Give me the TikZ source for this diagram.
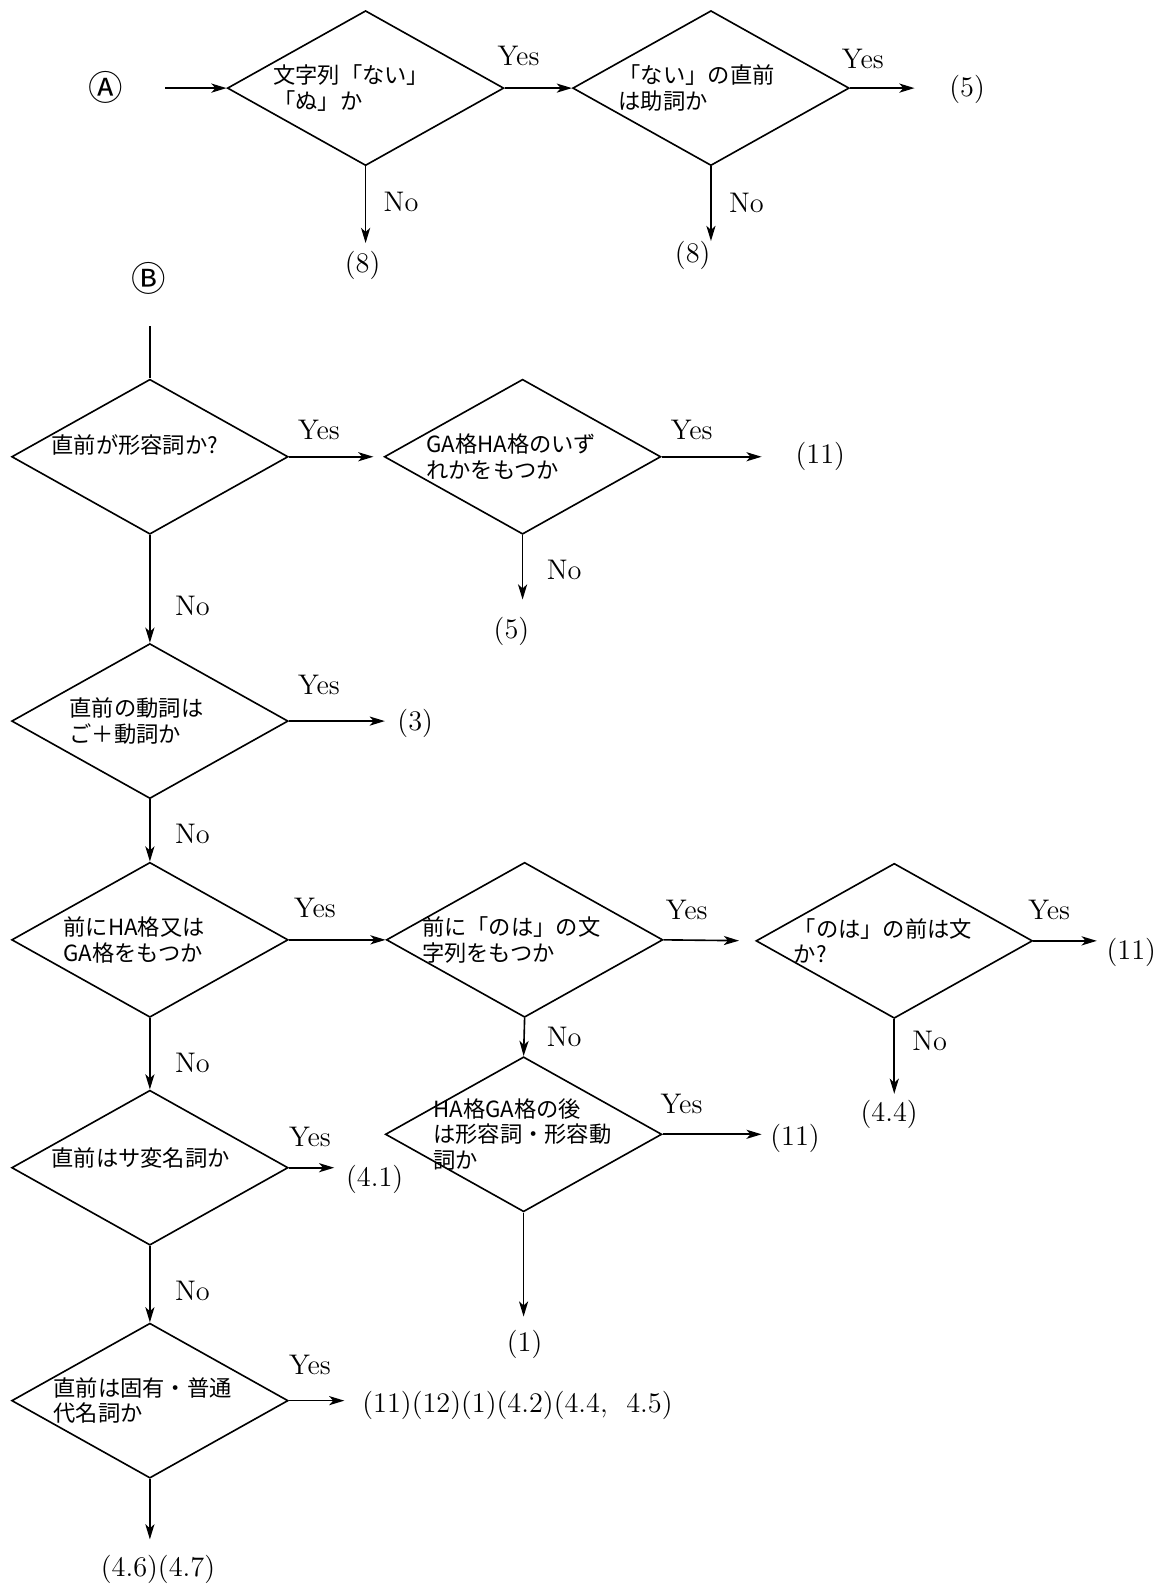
\documentclass[tikz,border=0pt]{standalone}
\usepackage{fontspec}
\newfontfamily\cjk{Noto Sans CJK JP}
\usetikzlibrary{shapes.geometric,arrows.meta}

\begin{document}
\begin{tikzpicture}[x=0.5pt,y=-0.5pt,line width=0.8pt,
  >={Stealth[length=7.5pt,width=4.5pt,inset=2pt]},
  box/.style={diamond,draw,minimum width=136.5pt,minimum height=76.5pt,inner sep=0pt},
  qtext/.style={anchor=west,align=left,inner sep=0pt,font=\cjk\fontsize{11}{12.5}\selectfont},
  lbl/.style={font=\fontsize{14}{16}\selectfont,inner sep=0pt},
  entry/.style={font=\cjk\fontsize{17}{19}\selectfont,inner sep=0pt}]
        \useasboundingbox (0,0) rectangle (1152,1568);

        \node[entry] (startA) at (104,86) {Ⓐ};
        \coordinate (a0) at (163,87);
        \node[box] (q1) at (361,87) {};
        \node[qtext] (t1) at ([xshift=-46pt]q1.center) {文字列「ない」\\「ぬ」か};
        \node[box] (q2) at (702,87) {};
        \node[qtext] (t2) at ([xshift=-46pt]q2.center) {「ない」の直前\\は助詞か};
        \coordinate (e2) at (903,87);
        \coordinate (n1) at (361,240);
        \coordinate (n2) at (702,238);
        \node[lbl] (y1) at (512,55) {Yes};
        \node[lbl] (y2) at (852,58) {Yes};
        \node[lbl] (no1) at (396,199) {No};
        \node[lbl] (no2) at (737,200) {No};
        \node[lbl] (r5a) at (955,88) {(5)};
        \node[lbl] (r8a) at (358,262) {(8)};
        \node[lbl] (r8b) at (684,252) {(8)};
        \draw[->] (a0) -- (q1.west);
        \draw[->] (q1.east) -- (q2.west);
        \draw[->] (q2.east) -- (e2);
        \draw[->] (q1.south) -- (n1);
        \draw[->] (q2.south) -- (n2);

        \node[entry] (startB) at (147,275) {Ⓑ};
        \coordinate (b0) at (148,322);
        \node[box] (q3) at (148,451) {};
        \node[qtext] (t3) at ([xshift=-49pt,yshift=6pt]q3.center) {直前が形容詞か?};
        \node[box] (q4) at (516,451) {};
        \node[qtext] (t4) at ([xshift=-48pt]q4.center) {GA格HA格のいず\\れかをもつか};
        \coordinate (e4) at (752,451);
        \coordinate (n4) at (516,592);
        \node[lbl] (y3) at (315,425) {Yes};
        \node[lbl] (y4) at (683,425) {Yes};
        \node[lbl] (no4) at (557,563) {No};
        \node[lbl] (no3) at (190,598) {No};
        \node[lbl] (r11a) at (810,451) {(11)};
        \node[lbl] (r5b) at (505,623) {(5)};
        \draw (b0) -- (q3.north);
        \draw[->,shorten >=5pt] (q3.east) -- (q4.west);
        \draw[->] (q4.east) -- (e4);
        \draw[->] (q4.south) -- (n4);

        \node[box] (q5) at (148,712) {};
        \node[qtext] (t5) at ([xshift=-40pt]q5.center) {直前の動詞は\\ご＋動詞か};
        \coordinate (e5) at (380,712);
        \node[lbl] (y5) at (315,676) {Yes};
        \node[lbl] (no5) at (190,823) {No};
        \node[lbl] (r3) at (410,714) {(3)};
        \draw[->] (q3.south) -- (q5.north);
        \draw[->] (q5.east) -- (e5);

        \node[box] (q6) at (148,928) {};
        \node[qtext] (t6) at ([xshift=-43pt]q6.center) {前にHA格又は\\GA格をもつか};
        \node[box] (q7) at (518,928) {};
        \node[qtext] (t7) at ([xshift=-51pt]q7.center) {前に「のは」の文\\字列をもつか};
        \node[box] (q8) at (883,929) {};
        \node[qtext] (t8) at ([xshift=-50pt]q8.center) {「のは」の前は文\\か?};
        \coordinate (e8) at (1083,929);
        \coordinate (n8) at (883,1080);
        \node[lbl] (y6) at (311,897) {Yes};
        \node[lbl] (y7) at (678,898) {Yes};
        \node[lbl] (y8) at (1036,898) {Yes};
        \node[lbl] (no8) at (918,1028) {No};
        \node[lbl] (no7) at (557,1024) {No};
        \node[lbl] (no6) at (190,1050) {No};
        \node[lbl] (r11b) at (1117,940) {(11)};
        \node[lbl] (r44) at (878,1100) {(4.4)};
        \draw[->] (q5.south) -- (q6.north);
        \draw[->] (q6.east) -- (q7.west);
        \draw[->,shorten >=8pt] (q7.east) -- (q8.west);
        \draw[->] (q8.east) -- (e8);
        \draw[->] (q8.south) -- (n8);

        \node[box] (q9) at (517,1120) {};
        \node[qtext] (t9) at ([xshift=-45pt]q9.center) {HA格GA格の後\\は形容詞・形容動\\詞か};
        \coordinate (e9) at (752,1120);
        \coordinate (n9) at (517,1300);
        \node[lbl] (y9) at (673,1090) {Yes};
        \node[lbl] (r11c) at (785,1124) {(11)};
        \node[lbl] (r1) at (518,1327) {(1)};
        \draw[->] (q7.south) -- (q9.north);
        \draw[->] (q9.east) -- (e9);
        \draw[->] (q9.south) -- (n9);

        \node[box] (q10) at (148,1153) {};
        \node[qtext] (t10) at ([xshift=-49pt,yshift=5pt]q10.center) {直前はサ変名詞か};
        \coordinate (e10) at (330,1153);
        \node[lbl] (y10) at (306,1123) {Yes};
        \node[lbl] (no10) at (190,1275) {No};
        \node[lbl] (r41) at (370,1165) {(4.1)};
        \draw[->] (q6.south) -- (q10.north);
        \draw[->] (q10.east) -- (e10);

        \node[box] (q11) at (148,1383) {};
        \node[qtext] (t11) at ([xshift=-48pt]q11.center) {直前は固有・普通\\代名詞か};
        \coordinate (e11) at (340,1383);
        \coordinate (n11) at (148,1520);
        \node[lbl] (y11) at (306,1348) {Yes};
        \node[lbl,anchor=west] (rlist) at (357,1388) {(11)(12)(1)(4.2)(4.4,~~4.5)};
        \node[lbl] (r467) at (156,1550) {(4.6)(4.7)};
        \draw[->] (q10.south) -- (q11.north);
        \draw[->] (q11.east) -- (e11);
        \draw[->] (q11.south) -- (n11);
    \end{tikzpicture}
\end{document}
